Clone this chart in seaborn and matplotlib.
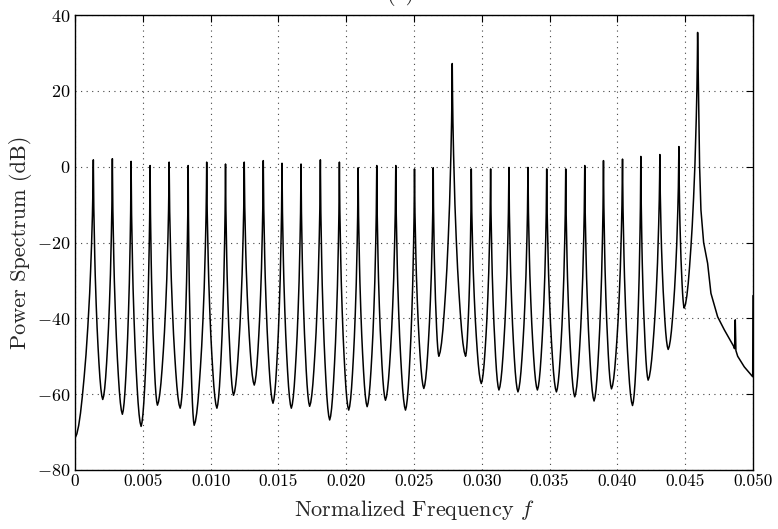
import numpy as np
import pandas as pd
import matplotlib
matplotlib.use("Agg")
import matplotlib.pyplot as plt
import seaborn as sns

# ---- data ----
peak_freq = [0.001352, 0.002755, 0.004136, 0.005539, 0.006942, 0.008346, 0.009712,
             0.011100, 0.012482, 0.013885, 0.015266, 0.016669, 0.018095, 0.019498,
             0.020879, 0.022253, 0.023656, 0.025037, 0.026418, 0.027821, 0.029225,
             0.030650, 0.032001, 0.033405, 0.034786, 0.036189, 0.037592, 0.038973,
             0.040377, 0.041728, 0.043131, 0.044535, 0.045916]
peak_db = [1.8, 2.1, 1.4, 0.3, 1.2, 0.3, 1.2, 0.7, 1.2, 1.6, 0.9, 0.7, 1.8, 1.2,
           -0.3, 0.3, 0.3, -0.6, -0.3, 27.2, -0.6, -0.6, -0.2, -0.2, -0.6, -0.6,
           0.3, 1.6, 2.0, 2.7, 3.2, 5.3, 35.4]
# first entry is the start of the curve at f = 0, then the minima between peaks
trough_freq = [0.0, 0.002046, 0.003493, 0.004874, 0.006078, 0.007755, 0.008789,
               0.010465, 0.011691, 0.013220, 0.014601, 0.015953, 0.017304, 0.018781,
               0.020185, 0.021544, 0.022895, 0.024372, 0.025724, 0.026832, 0.028804,
               0.029963, 0.031263, 0.032666, 0.034099, 0.035502, 0.036854, 0.038279,
               0.039564, 0.041115, 0.042267, 0.043745, 0.044926]
trough_db = [-71.6, -61.4, -65.3, -68.5, -62.9, -63.7, -68.2, -63.7, -60.3, -57.6,
             -62.4, -63.7, -63.2, -66.8, -64.2, -63.3, -61.6, -64.2, -58.5, -50.0,
             -50.0, -57.2, -58.9, -59.4, -58.9, -59.4, -60.7, -61.8, -58.6, -63.0,
             -56.3, -48.2, -37.3]
# shape of one flank (fraction of distance from the peak, fraction of the drop)
flank_u = [0.0, 0.02, 0.05, 0.10, 0.15, 0.20, 0.30, 0.40, 0.50, 0.60, 0.70, 0.80, 0.90, 1.0]
flank_v = [0.0, 0.10, 0.20, 0.31, 0.40, 0.48, 0.60, 0.70, 0.78, 0.85, 0.91, 0.955, 0.985, 1.0]
# decay after the last (largest) peak
tail_freq = [0.046063, 0.046160, 0.046359, 0.046654, 0.046898, 0.047393, 0.047880,
             0.048560, 0.048640, 0.048693, 0.048740, 0.048870, 0.049357, 0.049978, 0.050]
tail_db = [0.0, -11.4, -20.0, -25.5, -33.4, -39.6, -43.0, -47.3, -48.0, -40.4,
           -48.5, -50.0, -52.8, -55.4, -34.0]

xtick_vals = [0, 0.005, 0.010, 0.015, 0.020, 0.025, 0.030, 0.035, 0.040, 0.045, 0.050]
xtick_labels = ["0", "0.005", "0.010", "0.015", "0.020", "0.025", "0.030",
                "0.035", "0.040", "0.045", "0.050"]
ytick_vals = [-80, -60, -40, -20, 0, 20, 40]
ytick_labels = [r"$-80$", r"$-60$", r"$-40$", r"$-20$", r"$0$", r"$20$", r"$40$"]

# ---- assemble the curve from the read anchors ----
u = np.array(flank_u)
v = np.array(flank_v)
xs, ys = [], []
n = len(peak_freq)
for i in range(n):
    ft, yt = trough_freq[i], trough_db[i]
    fp, yp = peak_freq[i], peak_db[i]
    # rising flank (trough -> peak)
    seg_f = fp + u[::-1] * (ft - fp)
    seg_y = yp + v[::-1] * (yt - yp)
    if xs:
        seg_f, seg_y = seg_f[1:], seg_y[1:]
    xs.extend(seg_f); ys.extend(seg_y)
    if i + 1 < n:
        ft2, yt2 = trough_freq[i + 1], trough_db[i + 1]
        seg_f = fp + u * (ft2 - fp)
        seg_y = yp + v * (yt2 - yp)
        xs.extend(seg_f[1:]); ys.extend(seg_y[1:])
xs.extend(tail_freq); ys.extend(tail_db)
df = pd.DataFrame({"f": xs, "P": ys, "order": np.arange(len(xs))})

# ---- style ----
sns.set_theme(style="white")
plt.rcParams["font.family"] = ["cmr10", "DejaVu Serif"]
plt.rcParams["mathtext.fontset"] = "cm"
plt.rcParams["axes.unicode_minus"] = False

fig = plt.figure(figsize=(7.78, 5.29), dpi=100)
ax = fig.add_axes([75 / 778, 1 - 470 / 529, (753 - 75) / 778, (470 - 15) / 529])

sns.lineplot(data=df, x="f", y="P", ax=ax, color="black", linewidth=1.1,
             sort=False, estimator=None)

ax.set_xlim(0, 0.05)
ax.set_ylim(-80, 40)
ax.set_xticks(xtick_vals)
ax.set_xticklabels(xtick_labels, fontsize=12.5)
ax.set_yticks(ytick_vals)
ax.set_yticklabels(ytick_labels, fontsize=13)
ax.set_xlabel(r"Normalized Frequency $f$", fontsize=16, labelpad=6)
ax.set_ylabel("Power Spectrum (dB)", fontsize=16, labelpad=4)

ax.grid(True, linestyle=(0, (1, 4)), color="#444444", linewidth=0.8)
ax.tick_params(direction="in", top=True, right=True, length=5, width=0.8,
               colors="black", pad=3)
for sp in ax.spines.values():
    sp.set_color("black")
    sp.set_linewidth(1.0)

fig.text(401 / 778, 1.0, "(a)", fontsize=16, ha="center", va="baseline")

fig.savefig("out.png", dpi=100)
